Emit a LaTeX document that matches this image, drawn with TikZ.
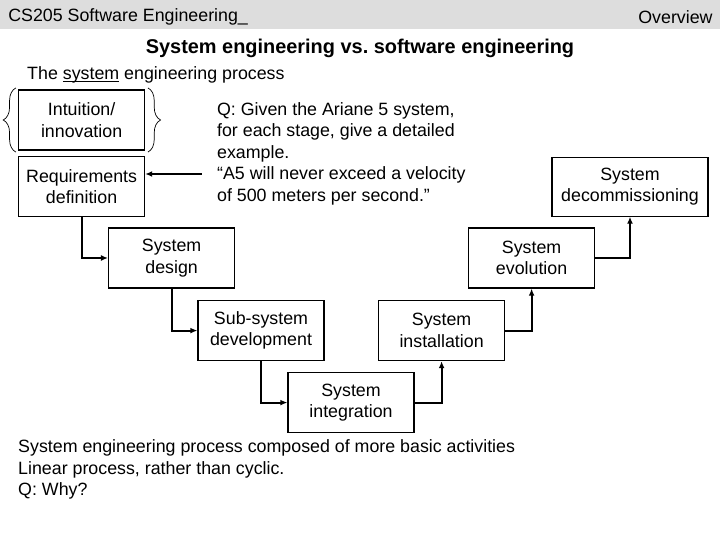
\documentclass[tikz,border=0pt]{standalone}
\usepackage{fontspec}
\setmainfont{Liberation Sans}
\usepackage{xcolor}
\usetikzlibrary{arrows.meta,decorations.pathreplacing}
\definecolor{headgray}{RGB}{221,221,221}

\begin{document}
\begin{tikzpicture}[x=0.9cm,y=0.9cm,
  every node/.style={font=\fontsize{15.2}{18.4}\selectfont},
  stage/.style={draw,line width=1pt,minimum width=3.78cm,minimum height=1.8cm,inner sep=0pt,align=center},
  flow/.style={line width=1.7pt,-{Latex[length=6pt,width=5pt]}},
  curly/.style={decorate,decoration={brace,amplitude=0.38cm},line width=0.6pt}]
  % Page
  \useasboundingbox (0,0) rectangle (24,18);
  \fill[white] (0,0) rectangle (24,18);

  % Header bar
  \fill[headgray] (0,17.03) rectangle (24,18);
  \node[anchor=west,inner sep=0pt] (course) at (0.27,17.44) {CS205 Software Engineering\_};
  \node[anchor=east,inner sep=0pt] (topic) at (23.76,17.44) {Overview};

  % Titles
  \node[font=\bfseries\fontsize{17}{20}\selectfont] (title) at (12,16.4)
    {System engineering vs.\ software engineering};
  \node[anchor=west,inner sep=0pt] (process) at (0.9,15.5)
    {The \underline{\smash{system}} engineering process};

  % Stages
  \node[stage] (intu) at (2.72,14.0) {Intuition/\\innovation};
  \node[stage] (req) at (2.72,11.78) {Requirements\\definition};
  \node[stage] (design) at (5.72,9.4) {System\\design};
  \node[stage] (sub) at (8.7,6.98) {Sub-system\\development};
  \node[stage] (integ) at (11.7,4.58) {System\\integration};
  \node[stage] (inst) at (14.72,6.98) {System\\installation};
  \node[stage] (evol) at (17.72,9.4) {System\\evolution};
  \node[stage,minimum width=4.68cm,minimum height=1.77cm] (decom) at (21.0,11.78)
    {System\\decommissioning};

  % Flow between stages
  \draw[flow] (req.south) |- (design.west);
  \draw[flow] (design.south) |- (sub.west);
  \draw[flow] (sub.south) |- (integ.west);
  \draw[flow] (integ.east) -| (inst.south);
  \draw[flow] (inst.east) -| (evol.south);
  \draw[flow] (evol.east) -| (decom.south);

  % Braces round the first stage
  \draw[curly] (0.53,12.93) -- (0.53,15.07);
  \draw[curly] (4.93,15.07) -- (4.93,12.93);

  % Question
  \node[anchor=west,align=left,inner sep=0pt] (quest) at (7.23,12.88)
    {Q: Given the Ariane 5 system,\\for each stage, give a detailed\\example.\\“A5 will never exceed a velocity\\of 500 meters per second.”};
  \coordinate (qtail) at (6.72,12.2);
  \draw[line width=1.1pt,-{Latex[length=6pt,width=5pt]}] (qtail) -- (qtail -| req.east);

  % Notes
  \node[anchor=west,align=left,inner sep=0pt] (notes) at (0.6,2.35)
    {System engineering process composed of more basic activities\\Linear process, rather than cyclic.\\Q: Why?};
\end{tikzpicture}
\end{document}
